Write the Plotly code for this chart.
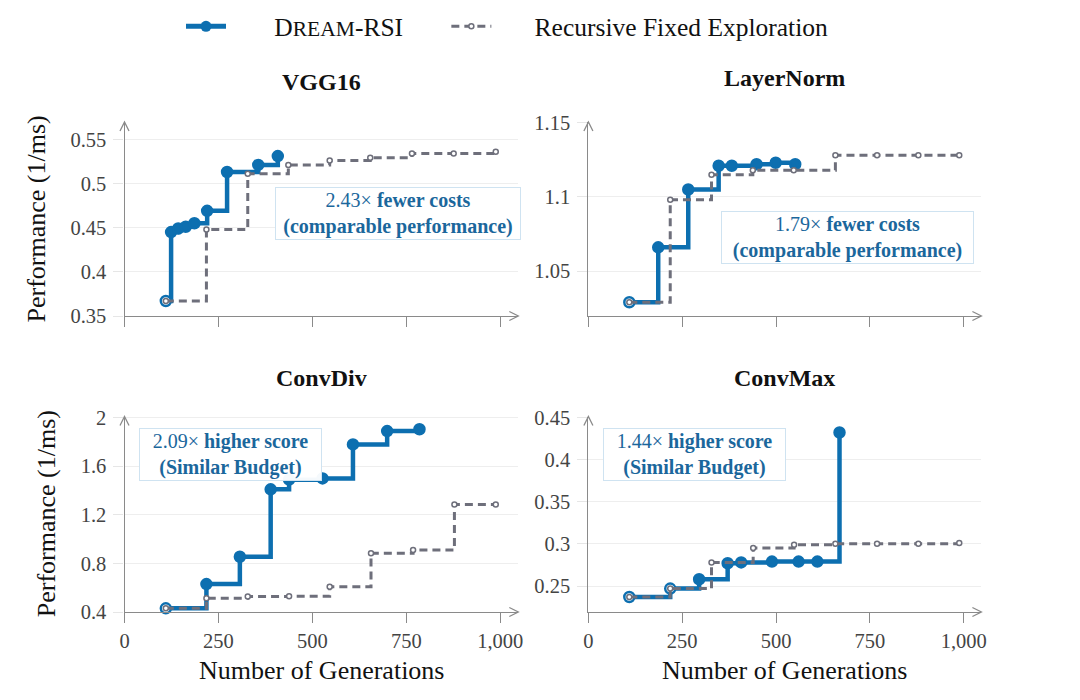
import plotly.graph_objects as go
from plotly.subplots import make_subplots

# colours / fonts
BLUE = "#0d6fb0"
GRAY = "#6e6f7b"
TXT_BLUE = "#1b679c"
FONT = "Liberation Serif"

# panel titles
panels = ["VGG16", "LayerNorm", "ConvDiv", "ConvMax"]

# VGG16
vgg_dream_x = [110, 124, 143, 163, 186, 220, 273, 356, 408]
vgg_dream_y = [0.367, 0.445, 0.449, 0.451, 0.455, 0.469, 0.513, 0.521, 0.531]
vgg_rfe_x = [110, 218, 328, 436, 546, 654, 765, 876, 988]
vgg_rfe_y = [0.367, 0.448, 0.511, 0.521, 0.526, 0.529, 0.534, 0.534, 0.536]

# LayerNorm
ln_dream_x = [109, 186, 266, 347, 382, 448, 499, 551]
ln_dream_y = [1.029, 1.066, 1.105, 1.121, 1.121, 1.122, 1.123, 1.122]
ln_rfe_x = [109, 218, 328, 438, 547, 658, 769, 879, 988]
ln_rfe_y = [1.029, 1.098, 1.115, 1.118, 1.118, 1.128, 1.128, 1.128, 1.128]

# ConvDiv
cd_dream_x = [110, 218, 307, 389, 438, 527, 608, 699, 785]
cd_dream_y = [0.43, 0.63, 0.855, 1.41, 1.49, 1.50, 1.78, 1.89, 1.905]
cd_rfe_x = [110, 218, 328, 438, 546, 656, 768, 878, 988]
cd_rfe_y = [0.43, 0.513, 0.527, 0.53, 0.607, 0.883, 0.911, 1.286, 1.286]

# ConvMax
cm_dream_x = [109, 218, 295, 371, 407, 489, 560, 610, 669]
cm_dream_y = [0.237, 0.247, 0.258, 0.277, 0.278, 0.279, 0.279, 0.279, 0.432]
cm_rfe_x = [109, 218, 328, 439, 548, 658, 769, 879, 988]
cm_rfe_y = [0.237, 0.247, 0.278, 0.295, 0.299, 0.300, 0.300, 0.300, 0.301]

# how many leading Dream-RSI points are drawn hollow
dream_open = [1, 1, 1, 2]

# y ticks per panel
y_ticks = [
    [0.35, 0.4, 0.45, 0.5, 0.55],
    [1.05, 1.1, 1.15],
    [0.4, 0.8, 1.2, 1.6, 2],
    [0.25, 0.3, 0.35, 0.4, 0.45],
]
y_ticktext = [
    ["0.35", "0.4", "0.45", "0.5", "0.55"],
    ["1.05", "1.1", "1.15"],
    ["0.4", "0.8", "1.2", "1.6", "2"],
    ["0.25", "0.3", "0.35", "0.4", "0.45"],
]
x_ticks = [0, 250, 500, 750, 1000]
x_ticktext = ["0", "250", "500", "750", "1,000"]

notes = [
    "2.43× <b>fewer costs</b><br><b>(comparable performance)</b>",
    "1.79× <b>fewer costs</b><br><b>(comparable performance)</b>",
    "2.09× <b>higher score</b><br><b>(Similar Budget)</b>",
    "1.44× <b>higher score</b><br><b>(Similar Budget)</b>",
]

data = [
    (vgg_dream_x, vgg_dream_y, vgg_rfe_x, vgg_rfe_y),
    (ln_dream_x, ln_dream_y, ln_rfe_x, ln_rfe_y),
    (cd_dream_x, cd_dream_y, cd_rfe_x, cd_rfe_y),
    (cm_dream_x, cm_dream_y, cm_rfe_x, cm_rfe_y),
]

# page body adds an 8px offset, so the figure is a bit smaller than the window
OFF = 8
W, H = 1080 - OFF, 700 - OFF


def px(x):
    return (x - OFF) / W


def py(y):
    return 1 - (y - OFF) / H


# layout in window pixels
col_x = [(124.5, 518.3), (588.4, 981.4)]
row_y = [(122, 316), (416.5, 612)]
y_ranges = [[0.35, 0.5696], [1.0197, 1.1505], [0.4, 2.01], [0.2192, 0.451]]
x_ranges = [[0, 1048], [0, 1047], [0, 1048], [0, 1047]]
title_pos = [(321.4, 82), (784.9, 77.5), (321.4, 377.5), (784.9, 377.5)]
ytitle_x = [36.5, 46]
# note boxes: centre x, centre y, width
note_box = [(398, 213.5, 246), (847, 237, 253), (230, 454, 183), (694, 454, 183)]

fig = make_subplots(rows=2, cols=2)

for i, (dx, dy, rx, ry) in enumerate(data):
    r, c = i // 2 + 1, i % 2 + 1
    fills = ["white"] * dream_open[i] + [BLUE] * (len(dx) - dream_open[i])
    fig.add_trace(go.Scatter(
        x=dx, y=dy, mode="lines+markers", line_shape="hv",
        line=dict(color=BLUE, width=4.5),
        marker=dict(size=10, color=fills, line=dict(color=BLUE, width=2.5)),
        showlegend=False, cliponaxis=False,
    ), row=r, col=c)
    fig.add_trace(go.Scatter(
        x=rx, y=ry, mode="lines+markers", line_shape="hv",
        line=dict(color=GRAY, width=3, dash="8px,5px"),
        marker=dict(size=5, color="white", line=dict(color=GRAY, width=1.5)),
        showlegend=False, cliponaxis=False,
    ), row=r, col=c)

# legend-only entries
fig.add_trace(go.Scatter(
    x=[None], y=[None], mode="lines+markers",
    name="\u2003\u2002\u2009D<span style='font-size:21.5px'>REAM</span>-RSI\u2003\u2002",
    line=dict(color=BLUE, width=5), marker=dict(size=11, color=BLUE),
))
fig.add_trace(go.Scatter(
    x=[None], y=[None], mode="lines+markers",
    name="\u2003\u2002Recursive Fixed Exploration",
    line=dict(color=GRAY, width=3, dash="8px,5px"),
    marker=dict(size=5, color="white", line=dict(color=GRAY, width=1.5)),
))

shapes = []
annotations = []
for i in range(4):
    r, c = i // 2, i % 2
    xa = "xaxis" if i == 0 else "xaxis%d" % (i + 1)
    ya = "yaxis" if i == 0 else "yaxis%d" % (i + 1)
    x0, x1 = col_x[c]
    y0, y1 = row_y[r]
    fig.layout[xa].update(
        domain=[px(x0), px(x1)], range=x_ranges[i],
        showline=True, linecolor="#8a8a8a", linewidth=1.3,
        ticks="outside", ticklen=10, tickcolor="#8a8a8a", tickwidth=1.3,
        tickvals=x_ticks, ticktext=x_ticktext, showticklabels=(r == 1),
        showgrid=False, zeroline=False, automargin=False,
        tickfont=dict(family=FONT, size=20.5, color="#444"),
    )
    fig.layout[ya].update(
        domain=[py(y1), py(y0)], range=y_ranges[i],
        showline=True, linecolor="#8a8a8a", linewidth=1.3,
        ticks="outside", ticklen=10, tickcolor="#e6e6e6",
        tickvals=y_ticks[i], ticktext=y_ticktext[i], ticklabelstandoff=3,
        showgrid=True, gridcolor="#eeeeee", gridwidth=1, zeroline=False,
        automargin=False,
        tickfont=dict(family=FONT, size=20.5, color="#444"),
    )
    # arrow heads at axis ends
    shapes.append(dict(
        type="path", xref="paper", yref="paper",
        path="M %f %f L %f %f L %f %f" % (px(x0 - 4.5), py(y0 + 9), px(x0), py(y0), px(x0 + 4.5), py(y0 + 9)),
        line=dict(color="#8a8a8a", width=1.3),
    ))
    shapes.append(dict(
        type="path", xref="paper", yref="paper",
        path="M %f %f L %f %f L %f %f" % (px(x1 - 9), py(y1 - 4.5), px(x1), py(y1), px(x1 - 9), py(y1 + 4.5)),
        line=dict(color="#8a8a8a", width=1.3),
    ))
    # panel title
    tx, ty = title_pos[i]
    annotations.append(dict(
        text="<b>%s</b>" % panels[i], xref="paper", yref="paper",
        x=px(tx), y=py(ty), xanchor="center", yanchor="middle",
        showarrow=False, font=dict(family=FONT, size=24, color="#111"),
    ))
    # comparison box
    nx, ny, bw = note_box[i]
    annotations.append(dict(
        text=notes[i], xref="paper", yref="paper", x=px(nx), y=py(ny),
        xanchor="center", yanchor="middle",
        showarrow=False, align="center", width=bw - 4,
        font=dict(family=FONT, size=20, color=TXT_BLUE),
        bgcolor="rgba(255,255,255,0.96)", bordercolor="#cfe3f1",
        borderwidth=1, borderpad=1,
    ))
    if c == 0:
        annotations.append(dict(
            text="Performance (1/ms)", xref="paper", yref="paper",
            x=px(ytitle_x[r]), y=py((y0 + y1) / 2), textangle=-90, showarrow=False,
            xanchor="center", yanchor="middle",
            font=dict(family=FONT, size=26, color="#111"),
        ))
    if r == 1:
        annotations.append(dict(
            text="Number of Generations", xref="paper", yref="paper",
            x=px((x0 + x1) / 2), y=py(670), showarrow=False,
            xanchor="center", yanchor="middle",
            font=dict(family=FONT, size=26, color="#111"),
        ))

fig.update_layout(
    width=W, height=H,
    margin=dict(l=0, r=0, t=0, b=0, autoexpand=False),
    plot_bgcolor="white", paper_bgcolor="white",
    shapes=shapes, annotations=annotations,
    legend=dict(
        orientation="h", x=px(181), y=py(26.7), xanchor="left", yanchor="middle",
        font=dict(family=FONT, size=25.5, color="#111"), itemwidth=40,
        bgcolor="rgba(0,0,0,0)",
    ),
)

fig.write_html("out.html")
